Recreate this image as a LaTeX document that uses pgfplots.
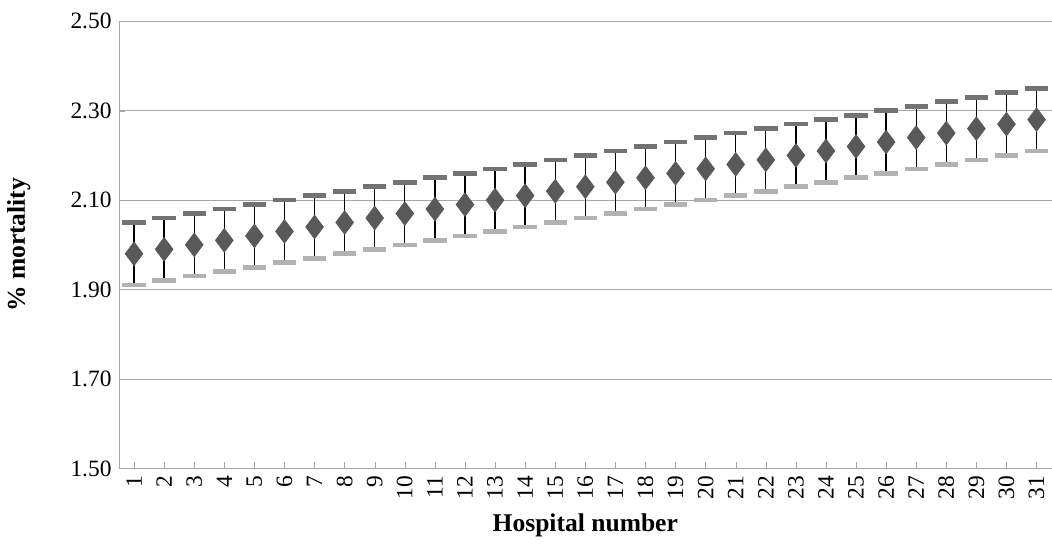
\documentclass[border=0pt]{standalone}
\usepackage{pgfplots}
\pgfplotsset{compat=1.18}
\usepackage{fontspec}
\setmainfont{Liberation Serif}
\begin{document}
\begin{tikzpicture}
\begin{axis}[name=ax, scale only axis, width=438pt, height=210pt,
  xmin=0.5, xmax=31.5, ymin=1.5, ymax=2.5,
  ytick={1.5,1.7,1.9,2.1,2.3,2.5},
  yticklabel style={/pgf/number format/fixed,/pgf/number format/fixed zerofill,/pgf/number format/precision=2},
  /pgf/number format/assume math mode=true,
  xtick={1,...,31}, xticklabel style={rotate=90,anchor=east},
  ymajorgrids, grid style={gray!70},
  axis line style={gray!70}, tick style={gray!70},
  axis x line*=bottom, axis y line*=left,
  major tick length=3pt,
  ylabel style={yshift=12pt},
  xlabel={\textbf{Hospital number}}, ylabel={\textbf{\% mortality}},
  tick label style={font=\fontsize{11}{13}\selectfont},
  label style={font=\fontsize{12}{14}\selectfont},
]
\addplot[only marks, mark=diamond*, mark size=5.5pt, mark options={fill=black!65,draw=black!65},
  error bars/.cd, y dir=both, y fixed=0.07, error bar style={black, line width=0.6pt}, error mark=none]
  table {
x y
1 1.98
2 1.99
3 2.00
4 2.01
5 2.02
6 2.03
7 2.04
8 2.05
9 2.06
10 2.07
11 2.08
12 2.09
13 2.10
14 2.11
15 2.12
16 2.13
17 2.14
18 2.15
19 2.16
20 2.17
21 2.18
22 2.19
23 2.20
24 2.21
25 2.22
26 2.23
27 2.24
28 2.25
29 2.26
30 2.27
31 2.28
};
\addplot[only marks, mark=-, mark size=5.5pt, mark options={line width=2.2pt, draw=black!55}]
  table {
x y
1 2.05
2 2.06
3 2.07
4 2.08
5 2.09
6 2.10
7 2.11
8 2.12
9 2.13
10 2.14
11 2.15
12 2.16
13 2.17
14 2.18
15 2.19
16 2.20
17 2.21
18 2.22
19 2.23
20 2.24
21 2.25
22 2.26
23 2.27
24 2.28
25 2.29
26 2.30
27 2.31
28 2.32
29 2.33
30 2.34
31 2.35
};
\addplot[only marks, mark=-, mark size=5.5pt, mark options={line width=2.2pt, draw=black!30}]
  table {
x y
1 1.91
2 1.92
3 1.93
4 1.94
5 1.95
6 1.96
7 1.97
8 1.98
9 1.99
10 2.00
11 2.01
12 2.02
13 2.03
14 2.04
15 2.05
16 2.06
17 2.07
18 2.08
19 2.09
20 2.10
21 2.11
22 2.12
23 2.13
24 2.14
25 2.15
26 2.16
27 2.17
28 2.18
29 2.19
30 2.20
31 2.21
};
\end{axis}
\path (ax.north) ++(0,10pt);
\end{tikzpicture}
\end{document}
